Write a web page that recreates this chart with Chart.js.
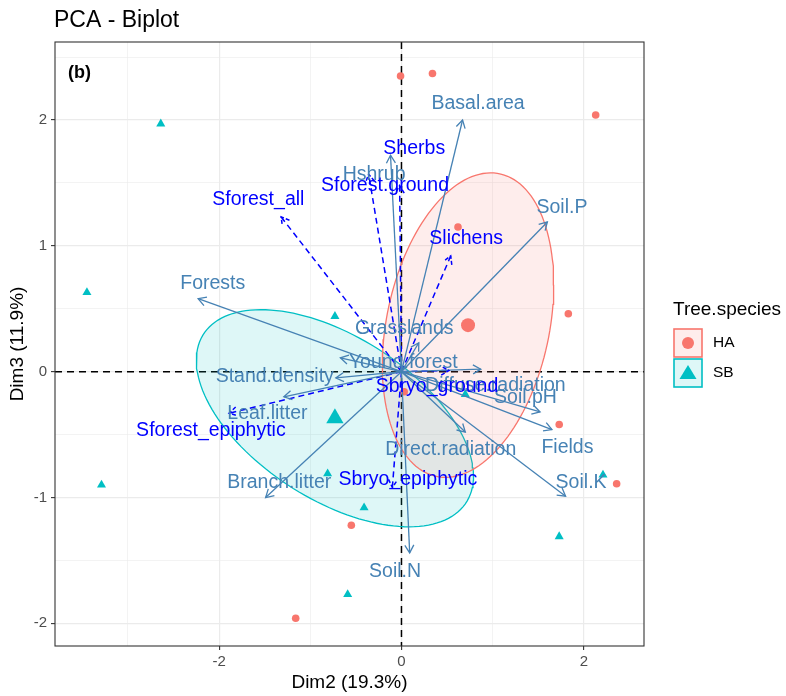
<!DOCTYPE html>
<html>
<head>
<meta charset="utf-8">
<script src="https://cdn.jsdelivr.net/npm/chart.js@4.4.1/dist/chart.umd.min.js"></script>
<style>
  body { margin: 0; background: #fff; }
  canvas { display: block; }
</style>
</head>
<body>
<canvas id="biplot" width="786" height="696"></canvas>
<script>
// individuals (Dim2, Dim3)
const haX = [-0.01, 0.34, 2.13, 0.62, 1.83, 1.73, 2.36, -0.55, -1.16, 0.03];
const haY = [2.35, 2.37, 2.04, 1.15, 0.46, -0.42, -0.89, -1.22, -1.96, -0.16];
const sbX = [-2.64, -3.45, -3.29, -0.73, -0.81, -0.41, -0.59, 1.73, 2.21, 0.70];
const sbY = [1.97, 0.63, -0.90, 0.44, -0.81, -1.08, -1.77, -1.31, -0.82, -0.18];
const groupMeans = { HA: [0.73, 0.37], SB: [-0.73, -0.37] };

// active variables
const varNames = ['Basal.area', 'Hshrub', 'Soil.P', 'Forests', 'Grasslands', 'Young.forest',
  'Diffuse.radiation', 'Stand.density', 'Leaf.litter', 'Soil.pH', 'Fields', 'Soil.K',
  'Direct.radiation', 'Branch.litter', 'Soil.N'];
const varX = [0.67, -0.12, 1.60, -2.23, 0.19, -0.67, 0.87, -0.72, -1.29, 1.52, 1.65, 1.80, 0.70, -1.49, 0.09];
const varY = [2.00, 1.72, 1.19, 0.58, 0.23, 0.11, 0.02, -0.05, -0.20, -0.32, -0.46, -0.99, -0.48, -1.00, -1.44];
const varLabelX = [0.84, -0.30, 1.76, -2.07, 0.03, 0.02, 1.03, -1.39, -1.47, 1.36, 1.82, 1.97, 0.54, -1.34, -0.07];
const varLabelY = [2.13, 1.57, 1.30, 0.70, 0.34, 0.075, -0.11, -0.04, -0.33, -0.21, -0.60, -0.88, -0.62, -0.88, -1.59];

// supplementary variables
const supNames = ['Sherbs', 'Sforest.ground', 'Sforest_all', 'Slichens', 'Sforest_epiphytic', 'Sbryo_ground', 'Sbryo_epiphytic'];
const supX = [-0.02, -0.36, -1.32, 0.54, -1.89, 0.52, -0.10];
const supY = [1.48, 1.57, 1.23, 0.92, -0.33, 0.01, -0.92];
const supLabelX = [0.14, -0.18, -1.57, 0.71, -2.09, 0.39, 0.07];
const supLabelY = [1.77, 1.48, 1.37, 1.06, -0.47, -0.12, -0.86];

// concentration ellipses: centre + shape matrix (Dim2/Dim3 units)
const haEllipse = [[0.94, 0], [0.32, 1.167]];
const sbEllipse = [[1.52, 0], [-0.46, 0.73]];

const xTicks = [-3, -2, -1, 0, 1, 2];
const yTicks = [-2, -1.5, -1, -0.5, 0, 0.5, 1, 1.5, 2, 2.5];

const haColor = '#F8766D';
const sbColor = '#00BFC4';
const varColor = '#4682B4';
const supColor = '#0000FF';
const fontFamily = '"Liberation Sans", Arial, sans-serif';

const toPoints = (xs, ys) => xs.map((x, i) => ({ x: x, y: ys[i] }));

const ellipseOutline = (centre, m) => {
  const pts = [];
  for (let i = 0; i <= 144; i++) {
    const t = i / 144 * 2 * Math.PI;
    pts.push({
      x: centre[0] + m[0][0] * Math.cos(t) + m[0][1] * Math.sin(t),
      y: centre[1] + m[1][0] * Math.cos(t) + m[1][1] * Math.sin(t)
    });
  }
  return pts;
};

const arrowDataset = (tipX, tipY, color, dashed) => ({
  data: [{ x: 0, y: 0 }, { x: tipX, y: tipY }],
  showLine: true,
  pointRadius: 0,
  borderColor: color,
  borderWidth: dashed ? 1.5 : 1.3,
  borderDash: dashed ? [6, 4] : [],
  fill: false,
  order: 3
});

const datasets = [
  {
    data: ellipseOutline(groupMeans.HA, haEllipse),
    showLine: true, pointRadius: 0, borderColor: haColor, borderWidth: 1.3,
    backgroundColor: 'rgba(248, 118, 109, 0.13)', fill: 'shape', order: 10
  },
  {
    data: ellipseOutline(groupMeans.SB, sbEllipse),
    showLine: true, pointRadius: 0, borderColor: sbColor, borderWidth: 1.3,
    backgroundColor: 'rgba(0, 191, 196, 0.13)', fill: 'shape', order: 10
  },
  {
    data: toPoints(haX, haY), pointStyle: 'circle', pointRadius: 3.8,
    backgroundColor: haColor, borderWidth: 0, order: 5
  },
  {
    data: toPoints(sbX, sbY), pointStyle: 'triangle', pointRadius: 5.2,
    backgroundColor: sbColor, borderWidth: 0, order: 5
  },
  {
    data: [{ x: groupMeans.HA[0], y: groupMeans.HA[1] }], pointStyle: 'circle', pointRadius: 7,
    backgroundColor: haColor, borderWidth: 0, order: 5
  },
  {
    data: [{ x: groupMeans.SB[0], y: groupMeans.SB[1] }], pointStyle: 'triangle', pointRadius: 10,
    backgroundColor: sbColor, borderWidth: 0, order: 5
  }
];
varX.forEach((vx, i) => datasets.push(arrowDataset(vx, varY[i], varColor, false)));
supX.forEach((sx, i) => datasets.push(arrowDataset(sx, supY[i], supColor, true)));

const drawArrowHead = (ctx, fx, fy, tx, ty, len) => {
  const ang = Math.atan2(ty - fy, tx - fx);
  ctx.beginPath();
  ctx.moveTo(tx - len * Math.cos(ang - Math.PI / 6), ty - len * Math.sin(ang - Math.PI / 6));
  ctx.lineTo(tx, ty);
  ctx.lineTo(tx - len * Math.cos(ang + Math.PI / 6), ty - len * Math.sin(ang + Math.PI / 6));
  ctx.stroke();
};

const biplotDecor = {
  id: 'biplotDecor',
  beforeDatasetsDraw(chart) {
    const { ctx, chartArea: a, scales: { x, y } } = chart;
    const x0 = x.getPixelForValue(0);
    const y0 = y.getPixelForValue(0);
    ctx.save();
    ctx.strokeStyle = '#000';
    ctx.lineWidth = 1.5;
    ctx.setLineDash([7, 5]);
    ctx.beginPath();
    ctx.moveTo(a.left, y0);
    ctx.lineTo(a.right, y0);
    ctx.moveTo(x0, a.top);
    ctx.lineTo(x0, a.bottom);
    ctx.stroke();
    ctx.restore();
  },
  afterDatasetsDraw(chart) {
    const { ctx, chartArea: a, scales: { x, y } } = chart;
    const x0 = x.getPixelForValue(0);
    const y0 = y.getPixelForValue(0);
    ctx.save();

    // arrow heads
    ctx.lineWidth = 1.3;
    ctx.strokeStyle = varColor;
    varX.forEach((vx, i) => {
      drawArrowHead(ctx, x0, y0, x.getPixelForValue(vx), y.getPixelForValue(varY[i]), 9);
    });
    ctx.strokeStyle = supColor;
    ctx.lineWidth = 1.5;
    ctx.setLineDash([4, 2]);
    supX.forEach((sx, i) => {
      drawArrowHead(ctx, x0, y0, x.getPixelForValue(sx), y.getPixelForValue(supY[i]), 9);
    });
    ctx.setLineDash([]);

    // variable labels
    ctx.font = '19.5px ' + fontFamily;
    ctx.textAlign = 'center';
    ctx.textBaseline = 'middle';
    ctx.fillStyle = varColor;
    varNames.forEach((n, i) => {
      ctx.fillText(n, x.getPixelForValue(varLabelX[i]), y.getPixelForValue(varLabelY[i]));
    });
    ctx.fillStyle = supColor;
    supNames.forEach((n, i) => {
      ctx.fillText(n, x.getPixelForValue(supLabelX[i]), y.getPixelForValue(supLabelY[i]));
    });

    // panel border
    ctx.strokeStyle = '#333333';
    ctx.lineWidth = 1.1;
    ctx.strokeRect(a.left, a.top, a.right - a.left, a.bottom - a.top);

    // titles
    ctx.fillStyle = '#000';
    ctx.textAlign = 'left';
    ctx.textBaseline = 'alphabetic';
    ctx.font = '23px ' + fontFamily;
    ctx.fillText('PCA - Biplot', a.left - 1, 27);
    ctx.font = 'bold 18px ' + fontFamily;
    ctx.fillText('(b)', 68, 78);

    ctx.font = '19px ' + fontFamily;
    ctx.textAlign = 'center';
    ctx.textBaseline = 'middle';
    ctx.fillText('Dim2 (19.3%)', (a.left + a.right) / 2, 683);
    ctx.save();
    ctx.translate(18, (a.top + a.bottom) / 2);
    ctx.rotate(-Math.PI / 2);
    ctx.fillText('Dim3 (11.9%)', 0, 0);
    ctx.restore();

    // legend
    ctx.textAlign = 'left';
    ctx.fillText('Tree.species', 673, 310);
    const keys = [
      { label: 'HA', color: haColor, fill: 'rgba(248, 118, 109, 0.13)', top: 328 },
      { label: 'SB', color: sbColor, fill: 'rgba(0, 191, 196, 0.13)', top: 358 }
    ];
    keys.forEach((k) => {
      ctx.fillStyle = k.fill;
      ctx.fillRect(674, k.top + 1, 28, 28);
      ctx.strokeStyle = k.color;
      ctx.lineWidth = 1.6;
      ctx.strokeRect(674, k.top + 1, 28, 28);
      ctx.fillStyle = k.color;
      const cx = 688, cy = k.top + 15;
      ctx.beginPath();
      if (k.label === 'HA') {
        ctx.arc(cx, cy, 6, 0, 2 * Math.PI);
      } else {
        ctx.moveTo(cx, cy - 8);
        ctx.lineTo(cx + 8.5, cy + 6);
        ctx.lineTo(cx - 8.5, cy + 6);
        ctx.closePath();
      }
      ctx.fill();
      ctx.fillStyle = '#000';
      ctx.font = '15.5px ' + fontFamily;
      ctx.fillText(k.label, 713, cy);
    });
    ctx.restore();
  }
};

const biplotConfig = {
  type: 'scatter',
  data: { datasets: datasets },
  options: {
    responsive: false,
    animation: false,
    devicePixelRatio: 1,
    layout: { padding: { top: 42, right: 142, left: 0, bottom: 0 } },
    plugins: { legend: { display: false }, tooltip: { enabled: false } },
    scales: {
      x: {
        type: 'linear',
        min: -3.8,
        max: 2.66,
        afterBuildTicks: (s) => { s.ticks = xTicks.map((v) => ({ value: v })); },
        afterFit: (s) => { s.height = 50; },
        border: { display: false },
        grid: {
          color: '#EBEBEB',
          lineWidth: (c) => (c.tick && c.tick.value % 2 === 0 ? 1.2 : 0.6),
          tickColor: (c) => (c.tick && c.tick.value % 2 === 0 ? '#333333' : 'rgba(0,0,0,0)'),
          tickLength: 4,
          tickWidth: 1.1
        },
        ticks: {
          padding: 3,
          color: '#4D4D4D',
          font: { family: fontFamily, size: 15 },
          maxRotation: 0,
          autoSkip: false,
          callback: (v) => (v % 2 === 0 ? String(v) : '')
        }
      },
      y: {
        type: 'linear',
        min: -2.18,
        max: 2.62,
        afterBuildTicks: (s) => { s.ticks = yTicks.map((v) => ({ value: v })); },
        afterFit: (s) => { s.width = 55; },
        border: { display: false },
        grid: {
          color: '#EBEBEB',
          lineWidth: (c) => (c.tick && Number.isInteger(c.tick.value) ? 1.2 : 0.6),
          tickColor: (c) => (c.tick && Number.isInteger(c.tick.value) ? '#333333' : 'rgba(0,0,0,0)'),
          tickLength: 4,
          tickWidth: 1.1
        },
        ticks: {
          padding: 4,
          color: '#4D4D4D',
          font: { family: fontFamily, size: 15 },
          autoSkip: false,
          callback: (v) => (Number.isInteger(v) ? String(v) : '')
        }
      }
    }
  },
  plugins: [biplotDecor]
};

document.addEventListener('DOMContentLoaded', () => {
  const biplotChart = new Chart(document.getElementById('biplot'), biplotConfig);
});
</script>
</body>
</html>
